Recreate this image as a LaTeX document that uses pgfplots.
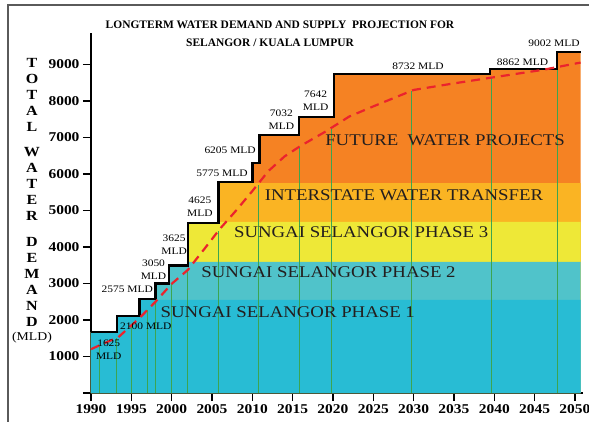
\documentclass[border=0pt]{standalone}
\usepackage{fontspec}
\setmainfont{Liberation Serif}[FakeStretch=1.15]
\newfontfamily\titlefont{Liberation Serif}
\usepackage{pgfplots}
\pgfplotsset{compat=1.18}
\definecolor{cFut}{RGB}{245,130,35}
\definecolor{cInt}{RGB}{250,180,35}
\definecolor{cPh3}{RGB}{238,232,55}
\definecolor{cPh2}{RGB}{80,195,202}
\definecolor{cPh1}{RGB}{40,188,212}
\definecolor{cGreen}{RGB}{60,165,80}
\definecolor{cRed}{RGB}{235,35,45}
\definecolor{cFrame}{RGB}{90,90,90}
\definecolor{cText}{RGB}{35,30,30}
\begin{document}
\begin{tikzpicture}
\begin{axis}[
  scale only axis, width=492bp, height=360bp,
  xmin=1990, xmax=2051, ymin=0, ymax=9860,
  axis x line=bottom, axis y line=left,
  axis line style={-, line width=2.5bp, black},
  xtick={1990,1995,...,2050},
  ytick={0,1000,2000,3000,4000,5000,6000,7000,8000,9000},
  yticklabels={,1000,2000,3000,4000,5000,6000,7000,8000,9000},
  tick align=outside, major tick length=8bp,
  tick style={line width=1.5bp, black},
  tick label style={font=\fontsize{13.5}{15}\selectfont\bfseries},
  /pgf/number format/assume math mode=true,
  /pgf/number format/1000 sep={},
  scaled ticks=false,
  clip=false,
]
% bands (clipped under demand staircase)
\addplot[const plot, fill=cFut, draw=none] coordinates {
 (1990,1670) (1993.2,2110) (1996,2575) (1998,3000) (1999.7,3490) (2002,4650) (2005.8,5780) (2010,6300) (2010.9,7070) (2015.8,7560) (2020.1,8740) (2039.5,8880) (2047.8,9340) (2050.7,9340)} \closedcycle;
\addplot[const plot, fill=cInt, draw=none] coordinates {
 (1990,1670) (1993.2,2110) (1996,2575) (1998,3000) (1999.7,3490) (2002,4650) (2005.8,5750) (2050.7,5750)} \closedcycle;
\addplot[const plot, fill=cPh3, draw=none] coordinates {
 (1990,1670) (1993.2,2110) (1996,2575) (1998,3000) (1999.7,3490) (2002,4650) (2005.8,4690) (2050.7,4690)} \closedcycle;
\addplot[const plot, fill=cPh2, draw=none] coordinates {
 (1990,1670) (1993.2,2110) (1996,2575) (1998,3000) (1999.7,3490) (2002,3590) (2050.7,3590)} \closedcycle;
\addplot[const plot, fill=cPh1, draw=none] coordinates {
 (1990,1670) (1993.2,2110) (1996,2550) (2050.7,2550)} \closedcycle;
% green verticals
\addplot[ycomb, draw=cGreen, line width=0.9bp, mark=none] coordinates {
 (1991,1300) (1993.2,1510) (1995,1850) (1997,2280) (1998,2500) (2000,2990) (2002,3370) (2005.8,4450) (2010.8,5700) (2015.8,6740) (2019.8,7270) (2029.7,8280) (2039.6,8640) (2047.8,8920)};
% demand staircase
\addplot[const plot, draw=black, line width=2.5bp, mark=none] coordinates {
 (1990,1670) (1993.2,2110) (1996,2575) (1998,3000) (1999.7,3490) (2002,4650) (2005.8,5780) (2010,6300) (2010.9,7070) (2015.8,7560) (2020.1,8740) (2039.5,8880) (2047.8,9340) (2050.7,9340)};
% supply projection
\addplot[draw=cRed, line width=2.2bp, dash pattern=on 9bp off 6bp, mark=none] coordinates {
 (1990,1200) (1991,1300) (1993.4,1530) (1996,2050) (1998,2500) (2000,2990) (2002,3370) (2004,3930) (2006,4500) (2008,5000) (2010,5530) (2012,6080) (2014,6480) (2016,6770) (2019,7150) (2022,7570) (2025,7850) (2027,8030) (2030,8300) (2035,8480) (2040,8650) (2046,8850) (2050.7,9050)};
% band labels
\begin{scope}[every node/.style={font=\fontsize{16.4}{18}\selectfont, text=cText, inner sep=0pt}]
\node at (axis cs:2014.4,2220) {SUNGAI SELANGOR PHASE 1};
\node at (axis cs:2019.45,3315) {SUNGAI SELANGOR PHASE 2};
\node at (axis cs:2023.5,4410) {SUNGAI SELANGOR PHASE 3};
\node at (axis cs:2028.8,5425) {INTERSTATE WATER TRANSFER};
\node at (axis cs:2033.9,6930) {FUTURE~~WATER PROJECTS};
\end{scope}
% MLD labels
\begin{scope}[every node/.style={font=\fontsize{10}{13}\selectfont, text=black, inner sep=0pt, align=center}]
\node at (axis cs:1992.2,1190) {1625\\MLD};
\node at (axis cs:1996.8,1840) {2100 MLD};
\node at (axis cs:1994.5,2850) {2575 MLD};
\node at (axis cs:1997.75,3380) {3050\\MLD};
\node at (axis cs:2000.3,4055) {3625\\MLD};
\node at (axis cs:2003.5,5095) {4625\\MLD};
\node at (axis cs:2006.25,6030) {5775 MLD};
\node at (axis cs:2007.25,6660) {6205 MLD};
\node at (axis cs:2013.6,7490) {7032\\MLD};
\node at (axis cs:2017.85,8010) {7642\\MLD};
\node at (axis cs:2030.55,8960) {8732 MLD};
\node at (axis cs:2043.5,9070) {8862 MLD};
\node at (axis cs:2047.4,9590) {9002 MLD};
\end{scope}
\end{axis}
% title
\node[font=\titlefont\fontsize{11.5}{13}\selectfont\bfseries, inner sep=0pt] at (189bp,368bp) {LONGTERM WATER DEMAND AND SUPPLY~~PROJECTION FOR};
\node[font=\titlefont\fontsize{11.5}{13}\selectfont\bfseries, inner sep=0pt] at (179bp,350bp) {SELANGOR / KUALA LUMPUR};
% vertical y label
\begin{scope}[every node/.style={font=\fontsize{14}{16}\selectfont\bfseries, inner sep=0pt}]
\node at (-59bp,330bp) {T};
\node at (-59bp,314bp) {O};
\node at (-59bp,298bp) {T};
\node at (-59bp,282bp) {A};
\node at (-59bp,266bp) {L};
\node at (-59bp,241bp) {W};
\node at (-59bp,225bp) {A};
\node at (-59bp,209bp) {T};
\node at (-59bp,193bp) {E};
\node at (-59bp,177bp) {R};
\node at (-59bp,151bp) {D};
\node at (-59bp,135bp) {E};
\node at (-59bp,119bp) {M};
\node at (-59bp,103bp) {A};
\node at (-59bp,87bp) {N};
\node at (-59bp,71bp) {D};
\end{scope}
\node[font=\fontsize{12}{14}\selectfont, inner sep=0pt] at (-59bp,55bp) {(MLD)};
% frame
\draw[cFrame, line width=1.5bp] (-83bp,-29bp) -- (-83bp,388bp) -- (498bp,388bp);
\pgfresetboundingbox
\useasboundingbox (-91bp,-29bp) rectangle (498bp,393bp);
\end{tikzpicture}
\end{document}
